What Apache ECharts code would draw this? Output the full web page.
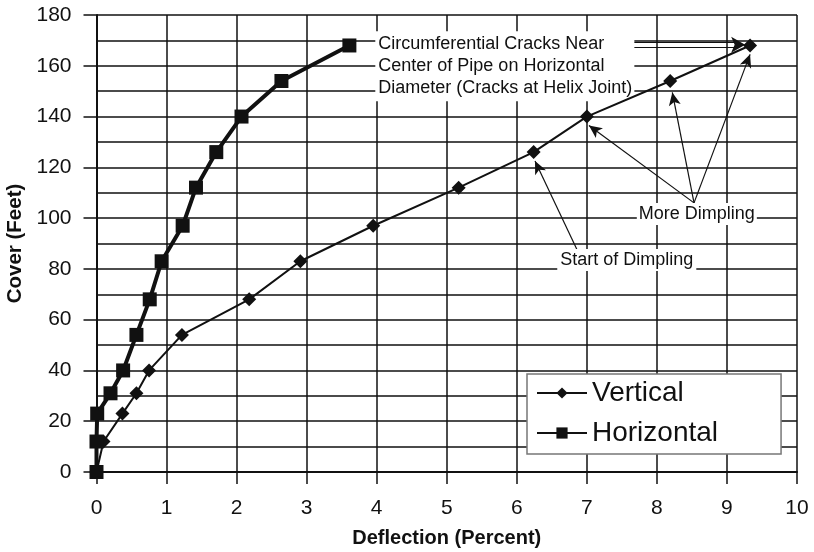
<!DOCTYPE html>
<html>
<head>
<meta charset="utf-8">
<script src="https://cdn.jsdelivr.net/npm/echarts@6/dist/echarts.min.js"></script>
<style>
  html, body { margin: 0; padding: 0; background: #fff; }
  #chart { width: 814px; height: 552px; }
</style>
</head>
<body>
<div id="chart"></div>
<script>
// Cover above the pipe crown (feet) at each load step
const coverFeet = [0, 12, 23, 31, 40, 54, 68, 83, 97, 112, 126, 140, 154, 168];
// Ring deflection (percent) measured on each diameter
const verticalDeflection = [0, 0.1, 0.37, 0.57, 0.75, 1.22, 2.18, 2.91, 3.95, 5.17, 6.24, 7.0, 8.19, 9.33];
const horizontalDeflection = [0, 0, 0.01, 0.2, 0.38, 0.57, 0.76, 0.93, 1.23, 1.42, 1.71, 2.07, 2.64, 3.61];
const seriesNames = ['Vertical', 'Horizontal'];

// Notes written on the plot, anchored in data units [deflection, cover]
const crackNote = ['Circumferential Cracks Near', 'Center of Pipe on Horizontal', 'Diameter (Cracks at Helix Joint)'];
const crackNoteAt = [3.98, 159.8];
const moreNote = 'More Dimpling';
const moreNoteAt = [8.57, 101.6];
const startNote = 'Start of Dimpling';
const startNoteAt = [7.57, 83.5];

// Leader arrows: [from, to] in data units
const crackArrowRails = [
  [[7.43, 169.2], [9.12, 169.2]],
  [[7.43, 167.4], [9.12, 167.4]]
];
const crackArrowHead = [[8.95, 168.3], [9.26, 168.3]];
const moreArrows = [
  [[8.53, 106], [7.03, 136.5]],
  [[8.53, 106], [8.22, 149.5]],
  [[8.53, 106], [9.33, 164.5]]
];
const startArrows = [
  [[6.86, 87.5], [6.26, 122.5]]
];

const INK = '#111';
const FONT = '"Liberation Sans", Arial, Helvetica, sans-serif';

function pairs(xs, ys) {
  return xs.map((x, i) => [x, ys[i]]);
}
function leader(seg, arrow) {
  return [
    { coord: seg[0], symbol: 'none' },
    { coord: seg[1], symbol: arrow ? 'arrow' : 'none' }
  ];
}

const chart = echarts.init(document.getElementById('chart'), null, { renderer: 'canvas' });

const option = {
  animation: false,
  backgroundColor: '#fff',
  textStyle: { fontFamily: FONT, color: INK },
  grid: { left: 96.5, right: 17, top: 15, bottom: 80, containLabel: false, outerBoundsMode: 'none' },
  legend: {
    data: seriesNames,
    orient: 'vertical',
    left: 527,
    top: 374,
    padding: [4, 63, 6, 9],
    itemGap: 10,
    itemWidth: 50,
    itemHeight: 14,
    backgroundColor: '#fff',
    borderColor: '#777',
    borderWidth: 1.5,
    z: 10,
    textStyle: { fontFamily: FONT, fontSize: 28, lineHeight: 30, color: INK }
  },
  xAxis: {
    type: 'value',
    min: 0,
    max: 10,
    interval: 1,
    name: 'Deflection (Percent)',
    nameLocation: 'middle',
    nameGap: 56,
    nameTextStyle: { fontFamily: FONT, fontSize: 20, fontWeight: 'bold', color: INK },
    axisLine: { show: true, onZero: false, lineStyle: { color: INK, width: 2 } },
    axisTick: { show: true, inside: false, length: 12, lineStyle: { color: INK, width: 1.5 } },
    axisLabel: { fontFamily: FONT, fontSize: 21, color: INK, margin: 26 },
    splitLine: { show: true, lineStyle: { color: INK, width: 1.5 } }
  },
  yAxis: {
    type: 'value',
    min: 0,
    max: 180,
    interval: 20,
    name: 'Cover (Feet)',
    nameLocation: 'middle',
    nameGap: 71,
    nameTextStyle: { fontFamily: FONT, fontSize: 20.5, fontWeight: 'bold', color: INK },
    axisLine: { show: true, onZero: false, lineStyle: { color: INK, width: 2 } },
    axisTick: { show: true, inside: false, length: 13, lineStyle: { color: INK, width: 1.5 } },
    axisLabel: { fontFamily: FONT, fontSize: 21, color: INK, margin: 25 },
    splitLine: { show: true, lineStyle: { color: INK, width: 1.5 } },
    minorTick: { show: false, splitNumber: 2 },
    minorSplitLine: { show: true, lineStyle: { color: INK, width: 1.5 } }
  },
  series: [
    {
      name: seriesNames[0],
      type: 'line',
      data: pairs(verticalDeflection, coverFeet),
      symbol: 'diamond',
      symbolSize: 14,
      color: INK,
      lineStyle: { color: INK, width: 2 },
      itemStyle: { color: INK },
      z: 4,
      markLine: {
        silent: true,
        z: 3,
        symbolSize: [9, 13],
        label: { show: false },
        lineStyle: { color: INK, width: 1.2, type: 'solid' },
        data: [
          ...crackArrowRails.map(s => leader(s, false)),
          ...moreArrows.map(s => leader(s, true)),
          ...startArrows.map(s => leader(s, true))
        ]
      },
      markPoint: {
        silent: true,
        z: 3,
        symbol: 'circle',
        symbolSize: 0,
        data: [
          {
            coord: crackNoteAt,
            label: {
              show: true,
              position: [0, 0],
              align: 'left',
              verticalAlign: 'middle',
              formatter: crackNote.join('\n'),
              fontFamily: FONT,
              fontSize: 18,
              lineHeight: 22,
              color: INK,
              backgroundColor: '#fff',
              padding: [2, 2, 2, 3]
            }
          },
          {
            coord: moreNoteAt,
            label: {
              show: true,
              position: [0, 0],
              align: 'center',
              verticalAlign: 'middle',
              formatter: moreNote,
              fontFamily: FONT,
              fontSize: 18,
              color: INK,
              backgroundColor: '#fff',
              padding: [2, 2, 2, 2]
            }
          },
          {
            coord: startNoteAt,
            label: {
              show: true,
              position: [0, 0],
              align: 'center',
              verticalAlign: 'middle',
              formatter: startNote,
              fontFamily: FONT,
              fontSize: 18,
              color: INK,
              backgroundColor: '#fff',
              padding: [2, 3, 2, 3]
            }
          }
        ]
      }
    },
    {
      name: seriesNames[1],
      type: 'line',
      data: pairs(horizontalDeflection, coverFeet),
      symbol: 'rect',
      symbolSize: 14,
      color: INK,
      lineStyle: { color: INK, width: 4 },
      itemStyle: { color: INK },
      z: 5,
      markLine: {
        silent: true,
        z: 3,
        symbolSize: [12, 14],
        label: { show: false },
        lineStyle: { color: INK, width: 0.01, type: 'solid' },
        data: [leader(crackArrowHead, true)]
      }
    }
  ]
};

chart.setOption(option);
</script>
</body>
</html>
